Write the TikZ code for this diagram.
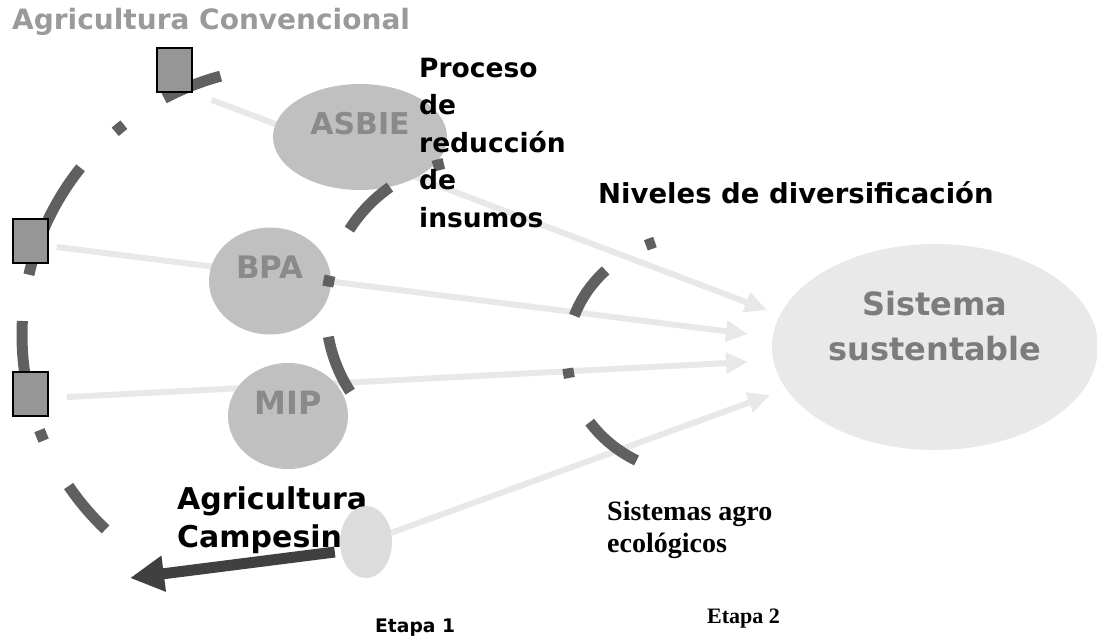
\documentclass[tikz,border=0pt]{standalone}
\usepackage{fontspec}
\setmainfont{DejaVu Sans}
\newfontfamily\serifbf{Liberation Serif}
\usetikzlibrary{arrows.meta, shapes.geometric, backgrounds}

\definecolor{boxgray}{HTML}{969696}
\definecolor{ringgray}{HTML}{606060}
\definecolor{flowgray}{HTML}{E8E8E8}
\definecolor{bubblegray}{HTML}{C0C0C0}
\definecolor{campgray}{HTML}{DCDCDC}
\definecolor{sistgray}{HTML}{E9E9E9}
\definecolor{taggray}{HTML}{8A8A8A}
\definecolor{titlegray}{HTML}{9A9A9A}
\definecolor{pushgray}{HTML}{404040}

\tikzset{
  bubble/.style = {ellipse, fill=#1, inner sep=0pt},
  box/.style = {rectangle, draw=black, line width=1.6pt, fill=boxgray,
                minimum width=35pt, minimum height=44pt, inner sep=0pt},
  ring/.style = {draw=ringgray, line width=11pt},
  flow/.style = {draw=flowgray, line width=6pt, -{Triangle[length=22pt, width=20pt]}},
  push/.style = {draw=pushgray, line width=11pt, -{Triangle[length=34pt, width=34pt]}},
  tag/.style = {inner sep=0pt, text=taggray, font=\bfseries\fontsize{#1}{#1}\selectfont},
  say/.style 2 args = {inner sep=0pt, align=left, anchor=base west,
                       font=\bfseries\fontsize{#1}{#2}\selectfont}
}

\begin{document}
\begin{tikzpicture}[x=1pt, y=-1pt]
  \useasboundingbox (0,0) rectangle (1097,642);

  % bubbles
  \node[bubble=bubblegray, minimum width=174pt, minimum height=106pt] (asbie) at (360,137) {};
  \node[bubble=bubblegray, minimum width=122pt, minimum height=107pt] (bpa) at (270,281) {};
  \node[bubble=bubblegray, minimum width=120pt, minimum height=106pt] (mip) at (288,416) {};
  \node[bubble=sistgray, minimum width=326pt, minimum height=206pt] (sist) at (935,347) {};
  \foreach \n/\s/\t in {asbie/30/ASBIE, bpa/31/BPA, mip/32/MIP}
    \node[tag=\s] (\n-txt) at ([yshift=13.5pt]\n) {\t};
  \node[tag=32, align=center, text=taggray!90!black, font=\bfseries\fontsize{32}{45}\selectfont]
    (sist-txt) at ([yshift=21pt]sist) {Sistema\\sustentable};

  % rings
  \coordinate (convring) at (290,335);
  \coordinate (redring) at (476,310);
  \coordinate (divring) at (700,355);
  \foreach \c/\rx/\ry/\a/\b in {convring/268/268/-118/-105, convring/268/268/-130.7/-128.3,
      convring/268/268/-167/-141.4, convring/268/268/168/183, convring/268/268/156.8/159.2,
      convring/268/268/133.5/145.7, redring/150/150/-147.6/-125, redring/150/150/-106.6/-102.4,
      redring/150/150/-171/-166.8, redring/150/150/147/169.7, divring/133/120/-114/-109.8,
      divring/133/120/-160.9/-135.2, divring/133/120/169/173.6, divring/133/120/118.5/146}
    \draw[ring] (\c) ++({\rx*cos(\a)},{\ry*sin(\a)}) arc[start angle=\a, end angle=\b, x radius=\rx, y radius=\ry];

  % boxes
  \node[box] (r1) at (174.5,70) {};
  \node[box] (r2) at (30.5,241) {};
  \node[box] (r3) at (30.5,394) {};

  % texts (multi-line nodes sit on their last baseline)
  \node[say={28}{38}, text=titlegray] (conv) at (12,30) {Agricultura Convencional};
  \node[say={26.5}{37.5}] (proc) at (419,227) {Proceso\\de\\reducción\\de\\insumos};
  \node[say={27.5}{32}] (niv) at (598,203) {Niveles de diversificación};
  \node[say={30}{38}] (campt) at (177,547) {Agricultura\\Campesina};
  \node[say={18.7}{20}] (et1) at (375,632) {Etapa 1};
  \node[say={28}{32}, font=\serifbf\bfseries\fontsize{28}{32}\selectfont] (agro) at (607,552) {Sistemas agro\\ecológicos};
  \node[say={22}{24}, font=\serifbf\bfseries\fontsize{22}{24}\selectfont] (et2) at (707,623) {Etapa 2};

  % campesina bubble
  \node[bubble=campgray, minimum width=52pt, minimum height=72pt] (camp) at (366,542) {};
  \coordinate (back) at (130,578);
  \draw[push] ([xshift=-5pt, yshift=-10pt]camp.west) -- (back);

  \begin{scope}[on background layer]
    \coordinate (in1) at (767,310);
    \coordinate (in2) at (748,334);
    \coordinate (in3) at (748,362);
    \coordinate (in4) at (770,395);
    \draw[flow, shorten <=20pt] (r1.south east) -- (in1);
    \draw[flow, shorten <=8pt] ([yshift=-5pt]r2.east) -- (in2);
    \draw[flow, shorten <=18pt] ([yshift=-4pt]r3.east) -- (in3);
    \draw[flow] (camp) -- (in4);
  \end{scope}
\end{tikzpicture}
\end{document}
